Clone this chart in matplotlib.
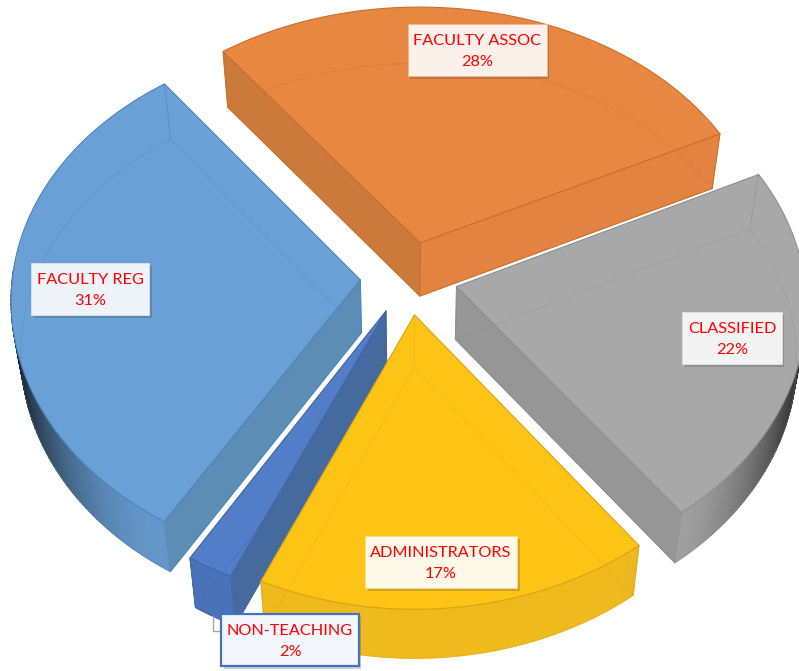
import numpy as np
import matplotlib
matplotlib.use("Agg")
import matplotlib.pyplot as plt
from matplotlib.colors import LinearSegmentedColormap, to_rgb
from matplotlib.patches import Polygon, Rectangle
import matplotlib.patheffects as pe

# Staff share by employee group
groups = ["FACULTY ASSOC", "CLASSIFIED", "ADMINISTRATORS", "NON-TEACHING", "FACULTY REG"]
shares = [28, 22, 17, 2, 31]

top_colors = ["#E88742", "#A8A8A8", "#FEC415", "#527DC8", "#69A0D6"]
edge_colors = ["#C96F28", "#8F8F8F", "#D9A216", "#3F66A8", "#4A86BE"]
cut_colors = ["#CC7A3C", "#969696", "#EDB41E", "#456A9E", "#5C8DB5"]
cut_colors_2 = ["#E38341", "#969696", "#EDB41E", "#456A9E", "#5C8DB5"]
wall_colors = ["#E08040", "#A4A4A4", "#EFBA1E", "#4A72B8", "#6496C8"]

label_xy = [(477, 50), (732, 338), (441, 562), (290, 640), (90, 289)]
label_edges = ["#F2B68C", "#DDDDDD", "#FBDC80", "#4472C4", "#CFE0F0"]
label_faces = ["#FBF0EA", "#F3F3F3", "#FEF8E8", "#F3F6FC", "#EEF3FA"]

# Pie plane and view settings
start_angle = -37.0
explode = 0.14
cx, cy = 409.0, 278.0
rx, ry = 348.0, 262.0
tilt_x, tilt_y = 0.07, 0.087
depth = 53.0
taper_x, taper_y = 0.025, 0.012


def project(u, v, z=0.0):
    x = cx + rx * u / (1 + tilt_x * v) * (1 - taper_x * z)
    y = cy - ry * v / (1 + tilt_y * v) * (1 - taper_y * z) + depth * z
    return np.column_stack([x, y])


def area(pts):
    x, y = pts[:, 0], pts[:, 1]
    return 0.5 * np.sum(x * np.roll(y, -1) - np.roll(x, -1) * y)


fig = plt.figure(figsize=(7.99, 6.71), dpi=100)
ax = fig.add_axes([0, 0, 1, 1])
ax.set_xlim(0, 799)
ax.set_ylim(671, 0)
ax.axis("off")

edges = start_angle + 3.6 * np.concatenate([[0], np.cumsum(shares)])
draw_order = [0, 1, 4, 3, 2]

for n, i in enumerate(draw_order):
    t0, t1 = np.radians(edges[i]), np.radians(edges[i + 1])
    mid = (t0 + t1) / 2
    ou, ov = explode * np.sin(mid), explode * np.cos(mid)
    t = np.linspace(t0, t1, 120)
    arc_u, arc_v = ou + np.sin(t), ov + np.cos(t)
    apex_u, apex_v = np.array([ou]), np.array([ov])

    top_arc = project(arc_u, arc_v, 0)
    low_arc = project(arc_u, arc_v, 1)
    top_apex = project(apex_u, apex_v, 0)
    low_apex = project(apex_u, apex_v, 1)
    line = edge_colors[i]
    z = 2 + n * 5

    # Straight cut faces, only those turned towards the viewer
    for k, c in [(0, cut_colors[i]), (-1, cut_colors_2[i])]:
        quad = np.array([top_apex[0], top_arc[k], low_arc[k], low_apex[0]])
        if (area(quad) > 0) == (k == 0):
            continue
        ax.add_patch(Polygon(quad, closed=True, facecolor=c, edgecolor=line, lw=0.7, zorder=z))

    # Curved outer wall, darkening towards the sides of the pie
    front = np.cos(t) < 0.05
    if front.any():
        wall = np.array(to_rgb(wall_colors[i]))
        cmap = LinearSegmentedColormap.from_list("wall", [wall * 0.2, wall])
        side = np.clip((np.abs(np.sin(t[front])) - 0.55) / 0.45, 0, 1)
        shade = 1 - side ** 1.8
        xs = np.vstack([top_arc[front, 0], low_arc[front, 0]])
        ys = np.vstack([top_arc[front, 1], low_arc[front, 1]])
        ax.pcolormesh(xs, ys, np.vstack([shade, shade]), shading="gouraud", cmap=cmap, vmin=0, vmax=1, zorder=z)

    # Lid
    lid = np.vstack([top_apex, top_arc])
    ax.add_patch(Polygon(lid, closed=True, facecolor=top_colors[i], edgecolor=line, lw=0.8, zorder=z + 1))

    # Underside and vertical edges showing through the lid
    under = np.vstack([low_apex, low_arc, low_apex])
    ax.plot(under[:, 0], under[:, 1], color=line, lw=0.7, alpha=0.3, zorder=z + 2)
    for k in (0, -1):
        ax.plot([top_arc[k, 0], low_arc[k, 0]], [top_arc[k, 1], low_arc[k, 1]], color=line, lw=0.7, alpha=0.6, zorder=z + 2)
    ax.plot([top_apex[0, 0], low_apex[0, 0]], [top_apex[0, 1], low_apex[0, 1]], color=line, lw=0.7, alpha=0.4, zorder=z + 2)

# Leader from the thin slice to its label
ax.plot([213, 213, 224], [616, 631, 631], color="#A6A6A6", lw=1, zorder=40)

# Label boxes are sized from the rendered text width
renderer = fig.canvas.get_renderer()
for name, share, xy, ec, fc in zip(groups, shares, label_xy, label_edges, label_faces):
    txt = ax.text(xy[0], xy[1] + 1.5, f"{name}\n{share}%", ha="center", va="center", color="#FF0000",
                  fontsize=11.7, family="Lato", linespacing=1.72, zorder=51)
    box_w = txt.get_window_extent(renderer).width + 11
    rect = Rectangle((xy[0] - box_w / 2, xy[1] - 26), box_w, 52, facecolor=fc, edgecolor=ec,
                     lw=1.6 if name == "NON-TEACHING" else 0.7, zorder=50)
    rect.set_path_effects([pe.SimplePatchShadow(offset=(2, -2), shadow_rgbFace="#444444", alpha=0.25), pe.Normal()])
    ax.add_patch(rect)

fig.savefig("out.png", dpi=100)
